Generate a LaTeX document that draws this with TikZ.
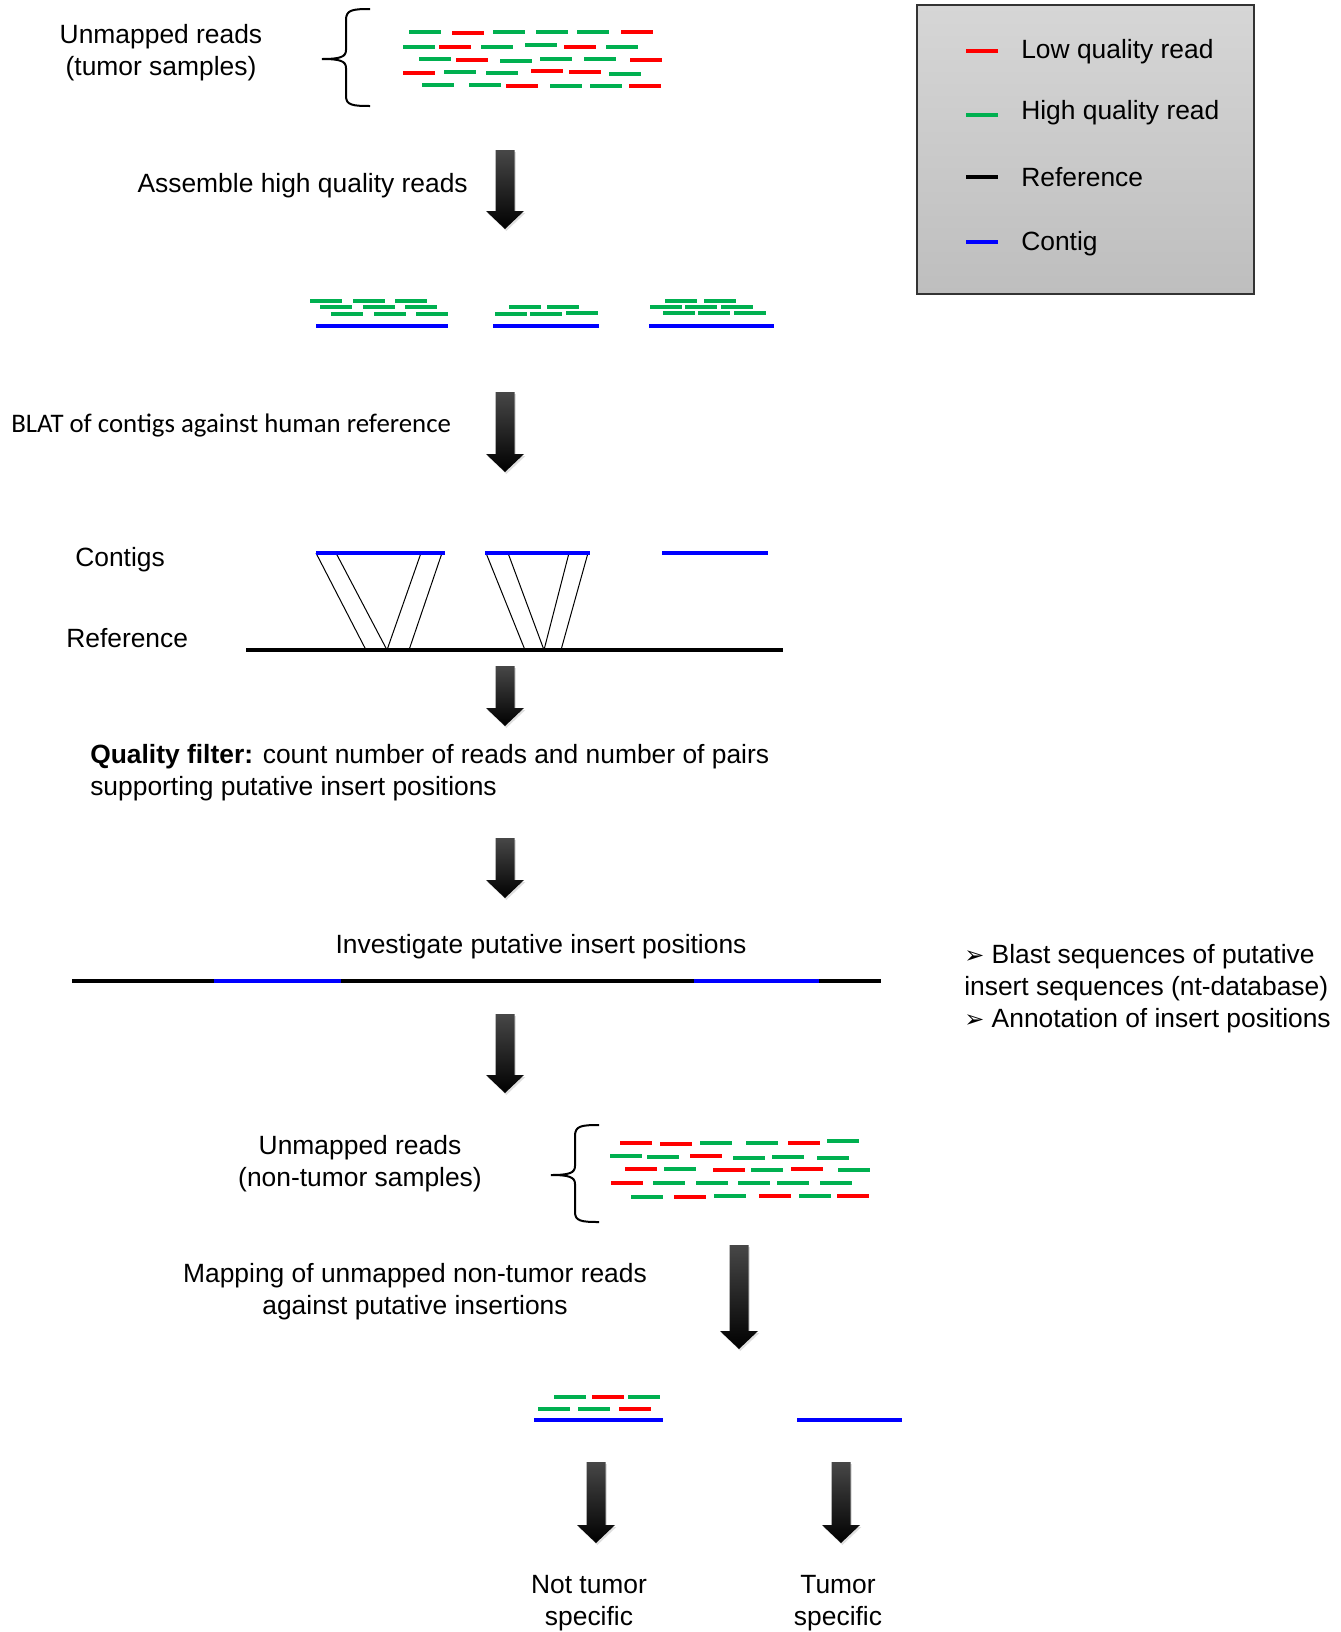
\documentclass[tikz,border=0pt]{standalone}
\usepackage{fontspec}
\setmainfont{Liberation Sans}
\newfontfamily\calibri{Carlito}
\newfontfamily\dejavu{DejaVu Sans}
\usetikzlibrary{shadows}
\definecolor{rgreen}{RGB}{0,176,80}
\definecolor{legtop}{RGB}{214,214,214}
\definecolor{legbot}{RGB}{190,190,190}
\tikzset{
  gr/.style={draw=rgreen, line width=3pt},
  rr/.style={draw=red, line width=3pt},
  ctg/.style={draw=blue, line width=3pt},
  refl/.style={draw=black, line width=2.4pt},
  thinl/.style={draw=black, line width=0.75pt},
  bracel/.style={draw=black, line width=1.5pt},
  txt/.style={inner sep=0pt, font=\fontsize{19.8}{24}\selectfont},
  bigarrowstyle/.style={top color=black!72, bottom color=black, draw=none,
     drop shadow={shadow xshift=1pt, shadow yshift=-1.5pt, opacity=0.25}},
}
\newcommand\BigArrow[3]{\path[bigarrowstyle] (#1-9.5,#2) -- (#1+9.5,#2) -- (#1+9.5,#3-18) -- (#1+19,#3-18) -- (#1,#3) -- (#1-19,#3-18) -- (#1-9.5,#3-18) -- cycle;}
\newcommand\Bul{{\dejavu\fontsize{18}{24}\selectfont ➢}}
\begin{document}
\begin{tikzpicture}[x=0.75pt,y=-0.75pt]
\useasboundingbox (0,0) rectangle (1340,1632);

% ---------- legend ----------
\path[top color=legtop, bottom color=legbot, draw=black!80, line width=1pt] (917,5) rectangle (1254,294);
\draw[rr] (966,51) -- (998,51);
\draw[gr] (966,115) -- (998,115);
\draw[refl, line width=3pt] (966,177) -- (998,177);
\draw[ctg] (966,242) -- (998,242);
\node[txt, anchor=base west] (lg1) at (1021,58) {Low quality read};
\node[txt, anchor=base west] (lg2) at (1021,119) {High quality read};
\node[txt, anchor=base west] (lg3) at (1021,186) {Reference};
\node[txt, anchor=base west] (lg4) at (1021,250) {Contig};

% ---------- section 1: unmapped tumor reads ----------
\node[txt, anchor=north, align=center] (unm1) at (161,24) {Unmapped reads\\(tumor samples)};
\draw[bracel] (370,9) .. controls (352,9) and (346,10) .. (346,20) -- (346,50)
   .. controls (346,57) and (340,59) .. (322,59)
   .. controls (340,59) and (346,61) .. (346,68) -- (346,96)
   .. controls (346,105) and (352,106) .. (370,106);
\foreach \x/\y in {409/32,493/32,536/32,577/32,403/47,481/47,525/45,606/47,419/59,500/61,540/59,584/59,444/72,486/73,609/74,422/85,469/85,550/86,590/86}
  \draw[gr] (\x,\y) -- ++(32,0);
\foreach \x/\y in {452/33,621/32,439/47,564/47,456/60,630/60,403/73,531/71,569/72,506/86,629/86}
  \draw[rr] (\x,\y) -- ++(32,0);

\node[txt, anchor=base east] (asm) at (468,192) {Assemble high quality reads};
\BigArrow{505}{150}{229}

% ---------- section 2: contigs ----------
\foreach \x/\y in {310/301,353/301,395/301,320/307,363/307,405/307,331/314,374/314,416/314,
                   509/307,547/307,495/314,530/314,566/313,
                   665/301,704/301,650/307,685/307,721/307,663/313,698/313,734/313}
  \draw[gr] (\x,\y) -- ++(32,0);
\draw[ctg] (316,326) -- (448,326);
\draw[ctg] (493,326) -- (599,326);
\draw[ctg] (649,326) -- (774,326);

\node[txt, anchor=base west, font=\calibri\fontsize{20.1}{24}\selectfont] (blat) at (11,432) {BLAT of contigs against human reference};
\BigArrow{505}{392}{472}

% ---------- section 3: alignment ----------
\node[txt, anchor=base west] (ctglab) at (75,566) {Contigs};
\node[txt, anchor=base west] (reflab) at (66,647) {Reference};
\draw[thinl] (316,553) -- (366,650);
\draw[thinl] (336,553) -- (387,650);
\draw[thinl] (421,553) -- (387,650);
\draw[thinl] (442,553) -- (409,650);
\draw[thinl] (486,553) -- (525,650);
\draw[thinl] (508,553) -- (544,650);
\draw[thinl] (569,553) -- (544,650);
\draw[thinl] (588,553) -- (561,650);
\draw[ctg] (316,553) -- (445,553);
\draw[ctg] (485,553) -- (590,553);
\draw[ctg] (662,553) -- (768,553);
\draw[refl] (246,650) -- (783,650);
\BigArrow{505}{666}{726}

% ---------- section 4: quality filter ----------
\node[txt, anchor=north west, align=left] (qf) at (90,744) {\textbf{Quality filter:} count number of reads and number of pairs\\supporting putative insert positions};
\BigArrow{505}{838}{898}

% ---------- section 5: investigate ----------
\node[txt, anchor=base] (inv) at (541,953) {Investigate putative insert positions};
\draw[refl, line width=3pt] (72,981) -- (881,981);
\draw[ctg] (214,981) -- (341,981);
\draw[ctg] (694,981) -- (819,981);
\node[txt, anchor=north west, align=left] (blast) at (964,944)
  {\Bul\ Blast sequences of putative\\insert sequences (nt-database)\\\Bul\ Annotation of insert positions};
\BigArrow{505}{1014}{1093}

% ---------- section 6: non-tumor reads ----------
\node[txt, anchor=north, align=center] (unm2) at (360,1135) {Unmapped reads\\(non-tumor samples)};
\draw[bracel] (599,1125) .. controls (581,1125) and (575,1126) .. (575,1136) -- (575,1166)
   .. controls (575,1173) and (569,1175) .. (551,1175)
   .. controls (569,1175) and (575,1177) .. (575,1184) -- (575,1212)
   .. controls (575,1221) and (581,1222) .. (599,1222);
\foreach \x/\y in {700/1143,746/1143,827/1141,610/1156,647/1157,733/1158,772/1157,817/1158,664/1169,751/1170,838/1170,653/1183,696/1183,738/1183,777/1183,820/1183,631/1197,714/1196,799/1196}
  \draw[gr] (\x,\y) -- ++(32,0);
\foreach \x/\y in {620/1143,660/1144,788/1143,690/1156,625/1169,713/1170,791/1169,611/1183,674/1197,759/1196,837/1196}
  \draw[rr] (\x,\y) -- ++(32,0);

\node[txt, anchor=north, align=center] (mapn) at (415,1263) {Mapping of unmapped non-tumor reads\\against putative insertions};
\BigArrow{739}{1245}{1349}

% ---------- section 7: results ----------
\foreach \x/\y in {554/1397,628/1397,538/1409,578/1409}
  \draw[gr] (\x,\y) -- ++(32,0);
\foreach \x/\y in {592/1397,619/1409}
  \draw[rr] (\x,\y) -- ++(32,0);
\draw[ctg] (534,1420) -- (663,1420);
\draw[ctg] (797,1420) -- (902,1420);
\BigArrow{596}{1462}{1543}
\BigArrow{841}{1462}{1543}
\node[txt, anchor=north, align=center] (nts) at (589,1575) {Not tumor\\specific};
\node[txt, anchor=north, align=center] (ts) at (838,1575) {Tumor\\specific};
\end{tikzpicture}
\end{document}
